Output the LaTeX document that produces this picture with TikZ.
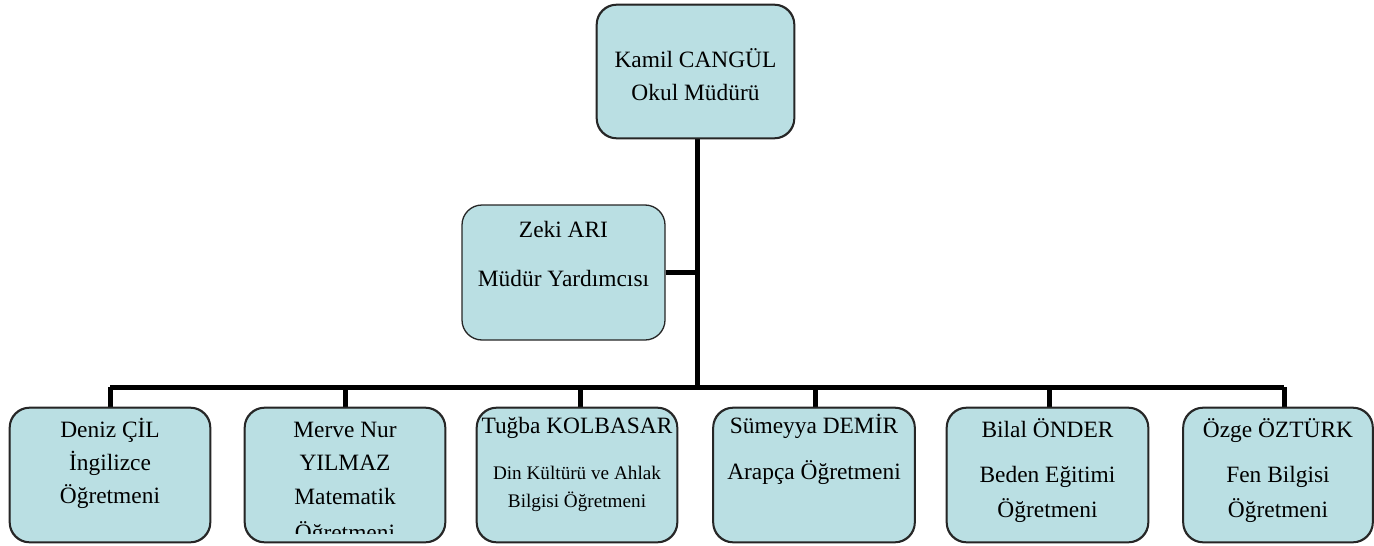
\documentclass[tikz,border=0pt]{standalone}
\usepackage{fontspec}
\setmainfont{Liberation Serif}
\definecolor{boxfill}{RGB}{186,223,227}
\begin{document}
\begin{tikzpicture}[x=1pt,y=-1pt,
  box/.style={draw=black!85, line width=1.3pt, fill=boxfill, rounded corners=20pt, inner sep=0pt},
  conn/.style={line width=5pt, black},
  txt/.style={anchor=base, inner sep=0pt, font=\fontsize{23.4}{27}\selectfont},
  stxt/.style={anchor=base, inner sep=0pt, font=\fontsize{19.2}{22}\selectfont}]
\useasboundingbox (0,0) rectangle (1374,546);
% boxes
\node[box, minimum width=197pt, minimum height=133pt] (top) at (695.5,71.5) {};
\node[box, minimum width=203pt, minimum height=135pt] (zeki) at (563.5,272.5) {};
\node[box, minimum width=200pt, minimum height=134pt] (b1) at (110,475) {};
\node[box, minimum width=200pt, minimum height=134pt] (b2) at (345,475) {};
\node[box, minimum width=200pt, minimum height=134pt] (b3) at (577,475) {};
\node[box, minimum width=201pt, minimum height=134pt] (b4) at (814,475) {};
\node[box, minimum width=201pt, minimum height=134pt] (b5) at (1047.5,475) {};
\node[box, minimum width=189pt, minimum height=134pt] (b6) at (1278,475) {};
% connectors
\coordinate (bar) at (697,387);
\coordinate (d1) at (110,387);
\coordinate (d2) at (345,387);
\coordinate (d3) at (580,387);
\coordinate (d4) at (815,387);
\coordinate (d5) at (1049,387);
\coordinate (d6) at (1284,387);
\draw[conn] (top.south -| bar) -- (bar);
\draw[conn] (zeki.east) -- (zeki.east -| bar);
\draw[conn] (d1) -- (d6);
\draw[conn] (d1) -- (d1 |- b1.north);
\draw[conn] (d2) -- (d2 |- b2.north);
\draw[conn] (d3) -- (d3 |- b3.north);
\draw[conn] (d4) -- (d4 |- b4.north);
\draw[conn] (d5) -- (d5 |- b5.north);
\draw[conn] (d6) -- (d6 |- b6.north);
% redraw box borders on top of connector ends
\foreach \n in {b1,b2,b3,b4,b5,b6} {
  \draw[draw=black!85, line width=1.3pt, rounded corners=20pt] (\n.south west) rectangle (\n.north east);
}
\draw[draw=black!85, line width=1.3pt, rounded corners=20pt] (top.south west) rectangle (top.north east);
% texts
\node[txt] (t1) at (695.5,67) {Kamil CANGÜL};
\node[txt] (t2) at (695.5,100) {Okul Müdürü};
\node[txt] (z1) at (563.5,237) {Zeki ARI};
\node[txt] (z2) at (563.5,286) {Müdür Yardımcısı};
\node[txt] (a1) at (110,437) {Deniz ÇİL};
\node[txt] (a2) at (110,470) {İngilizce};
\node[txt] (a3) at (110,503) {Öğretmeni};
\begin{scope}
\clip (b2.north west) rectangle ([yshift=9pt]b2.south east);
\node[txt] (m1) at (345,437) {Merve Nur};
\node[txt] (m2) at (345,470) {YILMAZ};
\node[txt] (m3) at (345,504) {Matematik};
\node[txt] (m4) at (345,540) {Öğretmeni};
\end{scope}
\node[txt] (c1) at (577,433) {Tuğba KOLBASAR};
\node[stxt] (c2) at (577,479) {Din Kültürü ve Ahlak};
\node[stxt] (c3) at (577,507) {Bilgisi Öğretmeni};
\node[txt] (e1) at (814,433) {Sümeyya DEMİR};
\node[txt] (e2) at (814,479) {Arapça Öğretmeni};
\node[txt] (f1) at (1047.5,437) {Bilal ÖNDER};
\node[txt] (f2) at (1047.5,482) {Beden Eğitimi};
\node[txt] (f3) at (1047.5,517) {Öğretmeni};
\node[txt] (g1) at (1278,437) {Özge ÖZTÜRK};
\node[txt] (g2) at (1278,482) {Fen Bilgisi};
\node[txt] (g3) at (1278,517) {Öğretmeni};
\end{tikzpicture}
\end{document}
